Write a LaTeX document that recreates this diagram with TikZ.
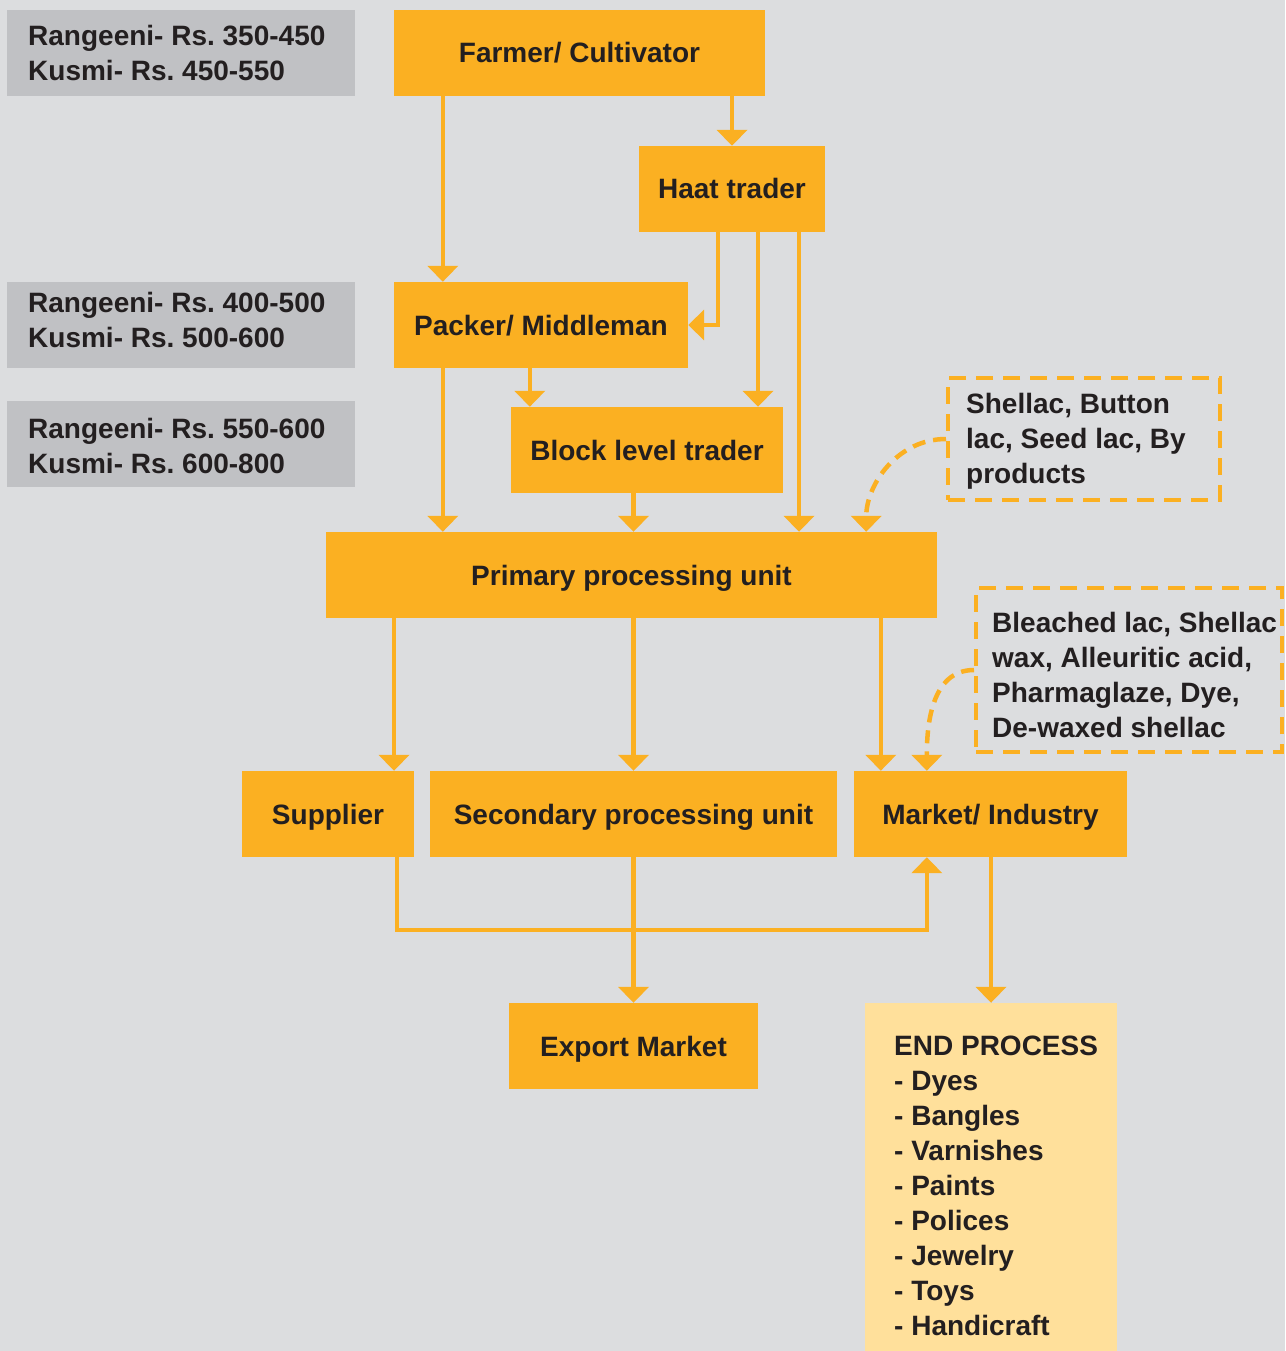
\documentclass[tikz,border=0pt]{standalone}
\usepackage{fontspec}
\setmainfont{Liberation Sans}
\usetikzlibrary{arrows.meta, positioning, calc}
\frenchspacing

\definecolor{bgcol}{HTML}{DCDDDF}
\definecolor{lacorange}{HTML}{FBB022}
\definecolor{pricegray}{HTML}{C0C1C4}
\definecolor{endyellow}{HTML}{FFE09B}
\definecolor{inkcol}{HTML}{231F20}

\tikzset{
  labelfont/.style={font=\fontsize{28}{35}\selectfont\bfseries, text=inkcol},
  stage/.style={rectangle, fill=lacorange, inner sep=0pt, minimum height=86pt,
    text height=20pt, text depth=0pt, labelfont},
  pricebox/.style={rectangle, fill=pricegray, inner sep=0pt,
    minimum width=348pt, minimum height=86pt},
  notebox/.style={rectangle, draw=lacorange, line width=4pt,
    dash pattern=on 17pt off 10pt, inner sep=0pt},
  endbox/.style={rectangle, fill=endyellow, inner sep=0pt},
  % anchored on the baseline of the last line
  boxtext/.style={anchor=base west, align=left, inner sep=0pt, labelfont},
  flow/.style={draw=lacorange, line width=4.5pt, -{Triangle[width=30pt,length=16pt]}},
  dashflow/.style={flow, dash pattern=on 13pt off 8pt}
}

\begin{document}
\begin{tikzpicture}[x=1pt, y=-1pt]
% Canvas
\fill[bgcol] (0,0) rectangle (1285,1351);
\useasboundingbox (0,0) rectangle (1285,1351);

% Price boxes
\node[pricebox] (price1) at (181,53) {};
\node[boxtext] (price1txt) at (28,81) {Rangeeni- Rs. 350-450\\Kusmi- Rs. 450-550};
\node[pricebox] (price2) at (181,325) {};
\node[boxtext] (price2txt) at (28,347) {Rangeeni- Rs. 400-500\\Kusmi- Rs. 500-600};
\node[pricebox] (price3) at (181,444) {};
\node[boxtext] (price3txt) at (28,473) {Rangeeni- Rs. 550-600\\Kusmi- Rs. 600-800};

% Trade chain
\node[stage, minimum width=371pt] (farmer) at (579.5,53) {Farmer/ Cultivator};
\node[stage, minimum width=186pt] (haat) at (732,189) {Haat trader};
\node[stage, minimum width=294pt] (packer) at (541,325) {Packer/ Middleman};
\node[stage, minimum width=272pt] (block) at (647,450) {Block level trader};
\node[stage, minimum width=611pt] (primary) at (631.5,575) {Primary processing unit};
\node[stage, minimum width=172pt] (supplier) at (328,814) {Supplier};
\node[stage, minimum width=407pt] (secondary) at (633.5,814) {Secondary processing unit};
\node[stage, minimum width=273pt] (market) at (990.5,814) {Market/ Industry};
\node[stage, minimum width=249pt] (export) at (633.5,1046) {Export Market};

% Product notes
\node[notebox, minimum width=272pt, minimum height=122pt] (byprod) at (1084,439) {};
\node[boxtext] (byprodtxt) at (966,483) {Shellac, Button\\lac, Seed lac, By\\products};
\node[notebox, minimum width=306pt, minimum height=164pt] (refined) at (1129,670) {};
\node[boxtext] (refinedtxt) at (992,737)
  {Bleached lac, Shellac\\wax, Alleuritic acid,\\Pharmaglaze, Dye,\\De-waxed shellac};

% End process
\node[endbox, minimum width=252pt, minimum height=357pt] (endproc) at (991,1181.5) {};
\node[boxtext] (endproctxt) at (894,1335)
  {END PROCESS\\- Dyes\\- Bangles\\- Varnishes\\- Paints\\- Polices\\- Jewelry\\- Toys\\- Handicraft};

% Connectors
\draw[flow] (haat.north |- farmer.south) -- (haat.north);
\draw[flow] ([xshift=49pt]farmer.south west) -- ([xshift=49pt]packer.north west);
\draw[flow] ([xshift=-14pt]haat.south) |- (packer.east);
\draw[flow] ([xshift=26pt]haat.south) -- ([xshift=26pt]haat.south |- block.north);
\draw[flow] ([xshift=67pt]haat.south) -- ([xshift=67pt]haat.south |- primary.north);
\draw[flow] ([xshift=19pt]block.north west |- packer.south) -- ([xshift=19pt]block.north west);
\draw[flow] ([xshift=49pt]packer.south west) -- ([xshift=49pt]packer.south west |- primary.north);
\draw[flow] (block.south -| secondary.north) -- (primary.north -| secondary.north);
\draw[dashflow] (byprod.west) to[out=180, in=90] ([xshift=-71pt]primary.north east);

\draw[flow] ([xshift=66pt]supplier.north |- primary.south) -- ([xshift=66pt]supplier.north);
\draw[flow] (primary.south -| secondary.north) -- (secondary.north);
\draw[flow] ([xshift=27pt]market.north west |- primary.south) -- ([xshift=27pt]market.north west);
\draw[dashflow] (refined.west) to[out=180, in=90] ([xshift=73pt]market.north west);

\draw[flow] ([xshift=69pt]supplier.south) -- ++(0,73) -| ([xshift=73pt]market.south west);
\draw[flow] (secondary.south) -- (export.north);
\draw[flow] (market.south -| endproc.north) -- (endproc.north);
\end{tikzpicture}
\end{document}
